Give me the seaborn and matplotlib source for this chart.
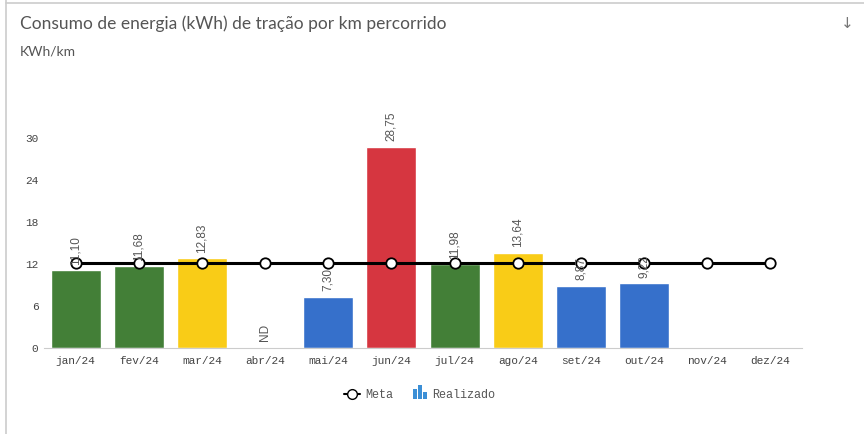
import numpy as np
import pandas as pd
import matplotlib.pyplot as plt
import seaborn as sns
from matplotlib.lines import Line2D
from matplotlib.patches import Rectangle
from matplotlib.legend_handler import HandlerBase

# dados
meses = ['jan/24', 'fev/24', 'mar/24', 'abr/24', 'mai/24', 'jun/24',
         'jul/24', 'ago/24', 'set/24', 'out/24', 'nov/24', 'dez/24']
realizado = [11.10, 11.68, 12.83, np.nan, 7.30, 28.75,
             11.98, 13.64, 8.87, 9.22, np.nan, np.nan]
status = ['verde', 'verde', 'amarelo', 'nd', 'azul', 'vermelho',
          'verde', 'amarelo', 'azul', 'azul', 'nd', 'nd']
meta = [12.1] * 12
yticks = [0, 6, 12, 18, 24, 30]

cores = {'verde': '#437f37', 'amarelo': '#f9cc17', 'vermelho': '#d63640',
         'azul': '#3670cb', 'nd': '#ffffff'}

df = pd.DataFrame({'mes': meses, 'realizado': realizado, 'status': status, 'meta': meta})

sns.set_style('white')
mono = ['Liberation Mono', 'DejaVu Sans Mono']
cinza = '#555555'


class IconeBarras(HandlerBase):
    # icone de tres barrinhas, como no painel original
    def create_artists(self, legend, orig_handle, xd, yd, w, h, fontsize, trans):
        bw = w / 4.0
        alturas = [0.95, 1.35, 0.65]
        arts = []
        for k, a in enumerate(alturas):
            r = Rectangle((xd + 0.1 * w + k * bw * 1.3, yd - 0.2 * h), bw, a * h,
                          facecolor='#3b8fd6', edgecolor='none', transform=trans)
            arts.append(r)
        return arts


fig = plt.figure(figsize=(8.64, 4.34), dpi=100)
ax = fig.add_axes([44 / 864, 1 - 348 / 434, 758 / 864, 210 / 434])

sns.barplot(data=df, x='mes', y='realizado', hue='status', palette=cores,
            width=0.79, legend=False, ax=ax, saturation=1)

xs = np.arange(len(meses))
ax.plot(xs, df['meta'], color='black', lw=2.2, marker='o', ms=7.5,
        markerfacecolor='white', markeredgecolor='black', mew=1.3, zorder=5)

# rotulos de valor
for i, v in enumerate(realizado):
    if i in (10, 11):
        continue
    if np.isnan(v):
        ax.text(i, 1.0, 'ND', rotation=90, ha='center', va='bottom',
                fontsize=8.5, family='Liberation Sans', color=cinza)
    else:
        ax.text(i, v + 0.8, f'{v:.2f}'.replace('.', ','), rotation=90,
                ha='center', va='bottom', fontsize=8.5, family='Liberation Sans',
                color=cinza, clip_on=False, zorder=6)

ax.set_ylim(0, 30)
ax.set_xlim(-0.5, 11.5)
ax.set_yticks(yticks)
ax.set_yticklabels([str(t) for t in yticks], family=mono, fontsize=8, color='#444444')
ax.set_xticks(xs)
ax.set_xticklabels(meses, family=mono, fontsize=8, color='#444444')
ax.tick_params(axis='y', length=0, pad=4)
ax.tick_params(axis='x', length=0, pad=6)
ax.set_xlabel('')
ax.set_ylabel('')
for s in ['top', 'right', 'left']:
    ax.spines[s].set_visible(False)
ax.spines['bottom'].set_color('#cccccc')

# titulo e unidade
fig.text(20 / 864, 1 - 24 / 434, 'Consumo de energia (kWh) de tração por km percorrido',
         fontsize=12.5, family='Lato', color='#555555', va='center')
fig.text(20 / 864, 1 - 52 / 434, 'KWh/km', fontsize=10, family='Lato',
         color='#555555', va='center')
fig.text(847 / 864, 1 - 24 / 434, '↓', fontsize=11, family='DejaVu Sans',
         color='#777777', ha='center', va='center')

# moldura do cartao
fig.add_artist(Rectangle((6 / 864, -0.1), 2, 1.2, transform=fig.transFigure,
                         fill=False, edgecolor='#cccccc', lw=1.2))
fig.add_artist(Line2D([6 / 864, 1], [1 - 3 / 434, 1 - 3 / 434],
                      transform=fig.transFigure, color='#cccccc', lw=1.2))

# legenda
h_meta = Line2D([], [], color='black', lw=1.5, marker='o', ms=7,
                markerfacecolor='white', markeredgecolor='black')
h_real = Rectangle((0, 0), 1, 1, color='#3b8fd6')
leg = fig.legend([h_meta, h_real], ['Meta', 'Realizado'], loc='center',
                 bbox_to_anchor=(420 / 864, 1 - 395 / 434), ncol=2, frameon=False,
                 prop={'family': mono, 'size': 8.5}, handlelength=1.3,
                 handleheight=1.0, columnspacing=1.5, handletextpad=0.5,
                 handler_map={Rectangle: IconeBarras()})
for t in leg.get_texts():
    t.set_color('#555555')

fig.savefig('out.png', dpi=100)
